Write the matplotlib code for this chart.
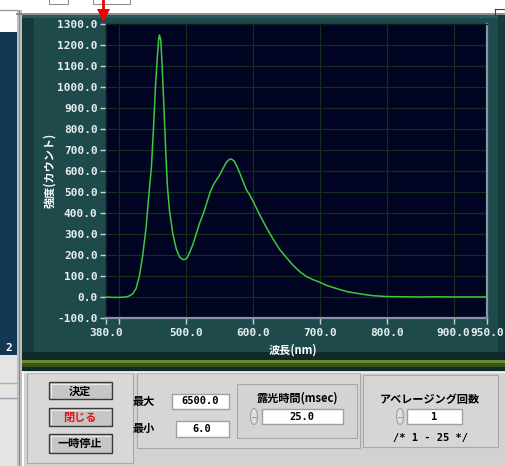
import matplotlib
matplotlib.use("Agg")
import matplotlib.pyplot as plt
from matplotlib.patches import Rectangle, Polygon, Ellipse
from matplotlib.lines import Line2D

plt.rcParams['font.family'] = ['Noto Sans CJK JP', 'DejaVu Sans']

# ---- data ----
wavelength = [380, 390, 400, 410, 415, 420, 425, 430, 435, 440, 444, 448, 451, 454, 457,
              459, 460, 462, 464, 466, 468, 470, 472, 475, 480, 485, 490, 495, 498, 501,
              505, 510, 515, 520, 526, 531, 536, 541, 546, 550, 555, 560, 565, 568, 572,
              576, 580, 585, 590, 595, 600, 610, 620, 630, 640, 650, 660, 670, 680, 690,
              700, 710, 720, 730, 740, 750, 760, 770, 780, 790, 800, 825, 850, 875, 900,
              925, 950]
intensity = [0, -2, -2, 0, 5, 15, 40, 100, 200, 330, 480, 620, 800, 1000, 1150,
             1230, 1245, 1220, 1100, 950, 800, 650, 520, 410, 300, 230, 190, 178, 178, 185,
             210, 250, 300, 350, 400, 450, 500, 535, 560, 580, 610, 640, 655, 655, 645,
             620, 590, 550, 510, 485, 455, 390, 330, 275, 225, 187, 150, 120, 97, 82,
             70, 55, 45, 35, 26, 20, 15, 10, 6, 4, 2, 1, 0, 1, 0,
             0, 0]

x_ticks = [380, 400, 500, 600, 700, 800, 900, 950]
x_ticklabels = ['380.0', '', '500.0', '600.0', '700.0', '800.0', '900.0', '950.0']
y_ticks = list(range(-100, 1301, 100))
y_ticklabels = ['%.1f' % v for v in y_ticks]

W, H = 506, 466
fig = plt.figure(figsize=(W / 100, H / 100), dpi=100, facecolor='white')

# ---- background UI layer in pixel coordinates ----
bg = fig.add_axes([0, 0, 1, 1])
bg.set_xlim(0, W)
bg.set_ylim(H, 0)
bg.axis('off')

def rect(x, y, w, h, fc, ec='none', lw=0, z=1):
    bg.add_patch(Rectangle((x, y), w, h, facecolor=fc, edgecolor=ec, linewidth=lw, zorder=z))

def line(xs, ys, c, lw=1, z=3):
    bg.add_line(Line2D(xs, ys, color=c, linewidth=lw, zorder=z))

# left strip
rect(0, 32, 17, 323, '#123854')
rect(0, 355, 17, 111, '#e4e4e4')
line([0, 17], [9.5, 9.5], '#9a9a9a', 1)
line([0, 17], [383, 383], '#b0b0b0', 1)
line([0, 17], [398, 398], '#9aa4b0', 1)
rect(17, 10, 5, 456, '#bfbfbf')
line([19.5, 19.5], [10, 466], '#8c8c8c', 0.8)

# top frame
line([17, 506], [14, 14], '#7a7a7a', 1.2)
# small top boxes
rect(49, -2, 19, 6, 'white', '#909090', 0.8)
rect(93, -2, 37, 6, 'white', '#909090', 0.8)
line([495, 506], [9, 9], '#404040', 0.8)
line([495, 495], [9, 15], '#404040', 0.8)

# teal window
rect(22, 15, 484, 340, '#1e4a4c')
rect(22, 15, 12, 340, '#17393b')
rect(22, 15, 484, 3, '#2a5a5c')
rect(498, 15, 8, 340, '#173c3e')
# bars below graph
rect(22, 352, 484, 8, '#102a2c')
rect(22, 360, 484, 3, '#6a8a32')
rect(22, 363, 484, 4, '#3a5519')
rect(22, 367, 484, 4, '#112a2a')

# lower gray panel
rect(24, 371, 482, 95, '#d2d2d2')
line([24, 506], [371.5, 371.5], '#f4f4f4', 1)
# group boxes
rect(27, 373, 106, 90, '#d8d8d8', '#a8a8a8', 0.8)
rect(137, 373, 223, 75, '#d6d6d6', '#a8a8a8', 0.8)
rect(363, 375, 135, 72, '#d6d6d6', '#a8a8a8', 0.8)
rect(237, 384, 120, 54, '#d4d4d4', '#a8a8a8', 0.8)

# buttons
for (by, bh) in [(382, 17), (408, 18), (434, 19)]:
    rect(49, by, 63, bh, '#c6c6c6', '#3a3a3a', 1.0)
    line([51, 110], [by + 2, by + 2], '#ececec', 0.8)
    line([51, 51], [by + 2, by + bh - 2], '#ececec', 0.8)

bg.text(80, 391, '決定', ha='center', va='center', fontsize=8, fontweight='bold', color='black')
bg.text(80, 417, '閉じる', ha='center', va='center', fontsize=8, fontweight='bold', color='#e01818')
bg.text(80, 443.5, '一時停止', ha='center', va='center', fontsize=8, fontweight='bold', color='black')

# text boxes
for (tx, ty, tw, th) in [(172, 394, 57, 15), (176, 421, 53, 16), (262, 409, 81, 15), (407, 409, 55, 15)]:
    rect(tx, ty, tw, th, 'white', '#a0a0a0', 1.0)

mono = ['DejaVu Sans Mono']
bg.text(144, 401.5, '最大', ha='center', va='center', fontsize=8, fontweight='bold', color='black')
bg.text(144, 428.5, '最小', ha='center', va='center', fontsize=8, fontweight='bold', color='black')
bg.text(200, 401.5, '6500.0', ha='center', va='center', fontsize=7.5, fontweight='bold', family=mono, color='black')
bg.text(202, 429, '6.0', ha='center', va='center', fontsize=7.5, fontweight='bold', family=mono, color='black')
bg.text(297, 398, '露光時間(msec)', ha='center', va='center', fontsize=8, fontweight='bold', color='black')
bg.text(302, 416.5, '25.0', ha='center', va='center', fontsize=7.5, fontweight='bold', family=mono, color='black')
bg.text(430, 399, 'アベレージング回数', ha='center', va='center', fontsize=8, fontweight='bold', color='black')
bg.text(434, 416.5, '1', ha='center', va='center', fontsize=7.5, fontweight='bold', family=mono, color='black')
bg.text(431, 438, '/* 1 - 25 */', ha='center', va='center', fontsize=7.5, fontweight='bold', family=mono, color='black')

# spinners
for sx in (254, 400):
    bg.add_patch(Ellipse((sx, 416.5), 7, 16, facecolor='#e0e0e0', edgecolor='#a0a0a0', linewidth=0.8, zorder=2))
    line([sx - 2, sx + 2], [416.5, 416.5], '#909090', 0.6)

# "2" in left strip
bg.text(9, 348, '2', ha='center', va='center', fontsize=8, fontweight='bold', family=mono, color='white')

# red arrow marker
line([103.5, 103.5], [0, 10], '#ee0000', 2, z=6)
bg.add_patch(Polygon([(97, 9), (110, 9), (103.5, 22)], closed=True, facecolor='#ee0000', edgecolor='none', zorder=6))

# ---- the graph ----
left, right, top, bottom = 106, 487, 23.5, 318
ax = fig.add_axes([left / W, 1 - bottom / H, (right - left) / W, (bottom - top) / H])
ax.set_facecolor('#000322')
ax.plot(wavelength, intensity, color='#3ec83e', linewidth=1.1, zorder=3)
ax.set_xlim(380, 950)
ax.set_ylim(-100, 1300)
ax.set_xticks(x_ticks)
ax.set_xticklabels(x_ticklabels)
ax.set_yticks(y_ticks)
ax.set_yticklabels(y_ticklabels)
ax.grid(True, color='#14301a', linewidth=0.9, zorder=0)
ax.set_axisbelow(True)
for lab in ax.get_xticklabels() + ax.get_yticklabels():
    lab.set_family(mono)
    lab.set_fontweight('bold')
ax.tick_params(axis='both', colors='#c8d4d4', labelcolor='#e6eeee', labelsize=8, length=4, width=1, pad=2)
ax.tick_params(axis='x', pad=3)
for s in ('left', 'top'):
    ax.spines[s].set_color('#0a1c20')
    ax.spines[s].set_linewidth(1)
for s in ('right', 'bottom'):
    ax.spines[s].set_color('#8894a6')
    ax.spines[s].set_linewidth(1.6)
ax.set_ylabel('強度(カウント)', color='white', fontsize=8, fontweight='bold')
ax.yaxis.set_label_coords(-0.132, 0.5)
ax.set_xlabel('波長(nm)', color='white', fontsize=8, fontweight='bold')
ax.xaxis.set_label_coords(0.491, -0.085)

fig.savefig('out.png', dpi=100, facecolor='white')
